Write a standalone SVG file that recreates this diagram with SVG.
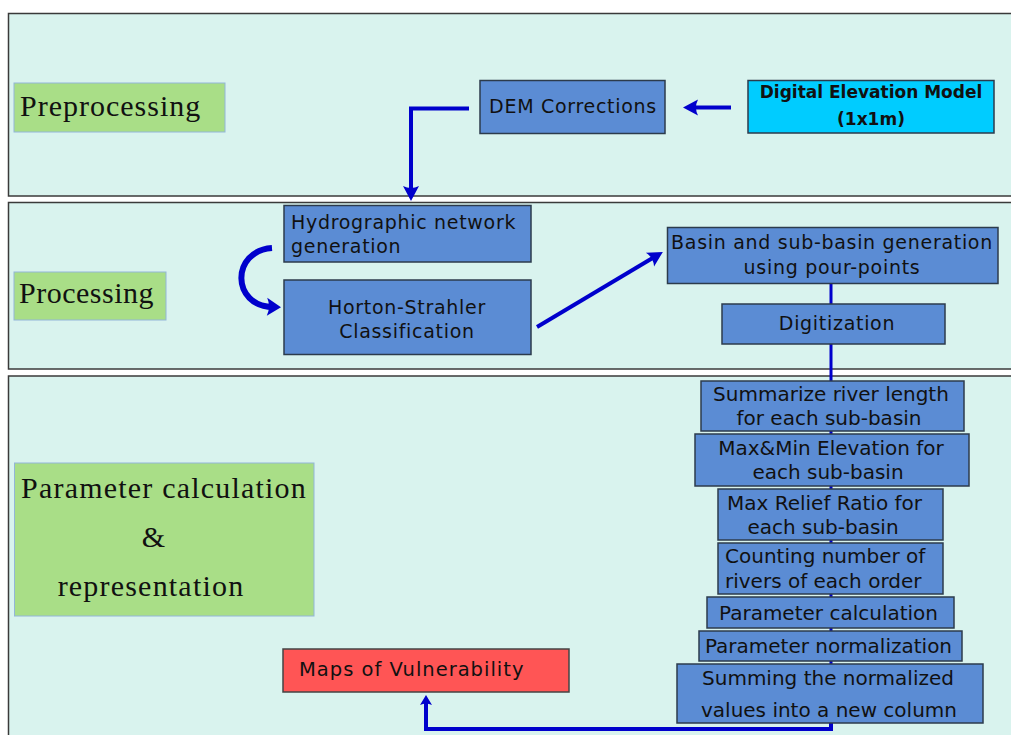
<svg xmlns="http://www.w3.org/2000/svg" width="1011" height="735" viewBox="0 0 1011 735">
<style>
  .panel { fill: #d9f3ee; stroke: #3a3a3a; stroke-width: 1.5; }
  .lbl { fill: #a9de87; stroke: #93b6d8; stroke-width: 1; }
  .lbltxt { font-family: "Liberation Serif", "Times New Roman", serif; font-size: 30px; letter-spacing: 1.2px; fill: #111; }
  .box { fill: #5b8cd4; stroke: #2c3b4c; stroke-width: 1.5; }
  .dem { fill: #00ccff; stroke: #2c3b4c; stroke-width: 1.5; }
  .red { fill: #ff5555; stroke: #444; stroke-width: 1.5; }
  .t18 { font-family: "DejaVu Sans", Verdana, sans-serif; font-size: 19px; letter-spacing: 0.7px; fill: #111; }
  .t20 { font-family: "DejaVu Sans", Verdana, sans-serif; font-size: 20px; fill: #111; }
  .bold { font-family: "DejaVu Sans", Verdana, sans-serif; font-size: 17px; font-weight: bold; fill: #111; }
  .c { text-anchor: middle; }
  .arr { fill: none; stroke: #0000cc; stroke-width: 4; }
  .thin { fill: none; stroke: #0000cc; stroke-width: 3; }
</style>
<defs>
  <marker id="head" markerUnits="userSpaceOnUse" viewBox="-8 -9 17 18" markerWidth="17" markerHeight="18" refX="0" refY="0" orient="auto">
    <path d="M 8 0 L -7 -8 Q -3 0 -7 8 Z" fill="#0000cc"/>
  </marker>
  <marker id="headL" markerUnits="userSpaceOnUse" viewBox="-8 -10 17 20" markerWidth="17" markerHeight="20" refX="0" refY="0" orient="auto">
    <path d="M 8 0 L -6 -9 Q -2 0 -6 9 Z" fill="#0000cc"/>
  </marker>
  <marker id="headS" markerUnits="userSpaceOnUse" viewBox="-6 -7 13 14" markerWidth="13" markerHeight="14" refX="0" refY="0" orient="auto">
    <path d="M 6 0 L -4 -6 Q -1 0 -4 6 Z" fill="#0000cc"/>
  </marker>
</defs>

<g id="panels">
  <rect class="panel" x="8.5" y="13.5" width="1010" height="182.5"/>
  <rect class="panel" x="8.5" y="202.5" width="1010" height="166.5"/>
  <rect class="panel" x="8.5" y="376" width="1010" height="370"/>
</g>

<g id="connectors">
  <line class="arr" x1="731" y1="107.5" x2="691" y2="107.5" marker-end="url(#head)"/>
  <polyline class="arr" points="469,108.5 411,108.5 411,193" marker-end="url(#head)"/>
  <path class="arr" style="stroke-width:6" d="M 272 248 C 231 251, 231 306, 273 307" marker-end="url(#headL)"/>
  <line class="arr" x1="537" y1="327" x2="656" y2="256" marker-end="url(#head)"/>
  <line class="thin" x1="831" y1="284" x2="831" y2="724"/>
  <polyline class="arr" points="831,722 831,729 426,729 426,701" marker-end="url(#headS)"/>
</g>

<g id="label-preprocessing">
  <rect class="lbl" x="14" y="83" width="211" height="49"/>
  <text class="lbltxt" x="20" y="115.5" style="letter-spacing:1px">Preprocessing</text>
</g>
<g id="label-processing">
  <rect class="lbl" x="14" y="272" width="152" height="48"/>
  <text class="lbltxt" x="19" y="302.5" style="letter-spacing:0.5px">Processing</text>
</g>
<g id="label-parameter">
  <rect class="lbl" x="14.5" y="463" width="299.5" height="153"/>
  <text class="lbltxt c" x="164" y="498">Parameter calculation</text>
  <text class="lbltxt c" x="154" y="547">&amp;</text>
  <text class="lbltxt c" x="151" y="596">representation</text>
</g>

<g id="dem-model">
  <rect class="dem" x="748" y="80.5" width="246" height="52.5"/>
  <text class="bold c" x="871" y="98">Digital Elevation Model</text>
  <text class="bold c" x="871" y="125">(1x1m)</text>
</g>
<g id="dem-corrections">
  <rect class="box" x="480" y="80.5" width="185" height="53"/>
  <text class="t18 c" x="573" y="113">DEM Corrections</text>
</g>
<g id="hydro">
  <rect class="box" x="284" y="205.5" width="247" height="56.5"/>
  <text class="t18" x="291" y="228.5">Hydrographic network</text>
  <text class="t18" x="291" y="253">generation</text>
</g>
<g id="horton">
  <rect class="box" x="284" y="280" width="247" height="74.5"/>
  <text class="t18 c" x="407" y="313.5">Horton-Strahler</text>
  <text class="t18 c" x="407" y="338">Classification</text>
</g>
<g id="basin">
  <rect class="box" x="667.5" y="227.5" width="330.5" height="56"/>
  <text class="t18 c" x="832" y="248.5">Basin and sub-basin generation</text>
  <text class="t18 c" x="832" y="273.5">using pour-points</text>
</g>
<g id="digitization">
  <rect class="box" x="722" y="304" width="223" height="40"/>
  <text class="t18 c" x="837" y="330">Digitization</text>
</g>
<g id="summarize">
  <rect class="box" x="701" y="381" width="263" height="50"/>
  <text class="t20 c" x="831" y="401">Summarize river length</text>
  <text class="t20 c" x="829" y="425">for each sub-basin</text>
</g>
<g id="maxmin">
  <rect class="box" x="695" y="434" width="274" height="52"/>
  <text class="t20 c" x="831" y="455">Max&amp;Min Elevation for</text>
  <text class="t20 c" x="828" y="478.5">each sub-basin</text>
</g>
<g id="relief">
  <rect class="box" x="718" y="489" width="225" height="51"/>
  <text class="t20 c" x="824.5" y="509.5">Max Relief Ratio for</text>
  <text class="t20 c" x="823" y="534">each sub-basin</text>
</g>
<g id="counting">
  <rect class="box" x="718" y="543" width="225" height="51"/>
  <text class="t20" x="725" y="563">Counting number of</text>
  <text class="t20" x="725" y="587.5">rivers of each order</text>
</g>
<g id="param-calc">
  <rect class="box" x="707" y="597" width="247" height="31"/>
  <text class="t20 c" x="828.5" y="619.5">Parameter calculation</text>
</g>
<g id="param-norm">
  <rect class="box" x="699" y="631" width="263" height="30"/>
  <text class="t20 c" x="828.5" y="653">Parameter normalization</text>
</g>
<g id="summing">
  <rect class="box" x="677" y="664" width="306" height="59"/>
  <text class="t20 c" x="828" y="685">Summing the normalized</text>
  <text class="t20 c" x="829" y="717">values into a new column</text>
</g>
<g id="maps">
  <rect class="red" x="283" y="649" width="286" height="43"/>
  <text class="t18" x="299" y="676" style="font-size:19.5px;letter-spacing:1px">Maps of Vulnerability</text>
</g>
</svg>
